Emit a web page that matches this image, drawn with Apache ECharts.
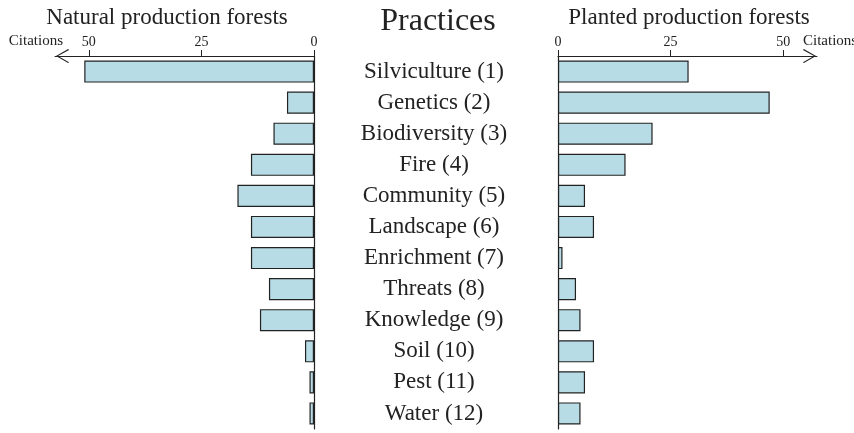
<!DOCTYPE html>
<html>
<head>
<meta charset="utf-8">
<script src="https://cdn.jsdelivr.net/npm/echarts@6/dist/echarts.min.js"></script>
<style>
  html, body { margin: 0; padding: 0; background: #fff; }
  #chart { width: 854px; height: 433px; }
</style>
</head>
<body>
<div id="chart"></div>
<script>
// Data
const practices = ['Silviculture (1)', 'Genetics (2)', 'Biodiversity (3)', 'Fire (4)', 'Community (5)',
  'Landscape (6)', 'Enrichment (7)', 'Threats (8)', 'Knowledge (9)', 'Soil (10)', 'Pest (11)', 'Water (12)'];
const naturalCitations = [51, 6, 9, 14, 17, 14, 14, 10, 12, 2, 1, 1];
const plantedCitations = [29, 47, 21, 15, 6, 8, 1, 4, 5, 8, 6, 5];
const tickValues = [0, 25, 50];

const font = 'Liberation Serif';
const ink = '#222';
// open arrow head, pointing up before ECharts rotates it
const arrow = 'path://M0,0 L8,14 L7,15 L0,2.4 L-7,15 L-8,14 Z';

function valueAxis(gridIndex, inverse, gap) {
  return {
    type: 'value', gridIndex: gridIndex, position: 'top', inverse: inverse,
    min: 0, max: 57.5,
    name: 'Citations', nameLocation: 'end', nameGap: gap,
    nameTextStyle: { fontFamily: font, fontSize: 15, color: ink, verticalAlign: 'bottom', padding: [0, 0, 7, 0] },
    axisLine: {
      show: true, lineStyle: { color: ink, width: 1 },
      symbol: inverse ? [arrow, 'none'] : ['none', arrow],
      symbolSize: [14, 15],
      symbolOffset: inverse ? [7.5, 0] : [0, -7.5]
    },
    axisTick: { show: true, length: 6, lineStyle: { color: ink }, customValues: tickValues },
    axisLabel: { fontFamily: font, fontSize: 14, color: ink, margin: 7, customValues: tickValues },
    splitLine: { show: false }
  };
}

function barSeries(axisIndex, values) {
  return {
    type: 'bar', xAxisIndex: axisIndex, yAxisIndex: axisIndex, data: values,
    barCategoryGap: '29%',
    itemStyle: { color: '#b7dce6', borderColor: ink, borderWidth: 1.2 },
    silent: true
  };
}

const chart = echarts.init(document.getElementById('chart'));
chart.setOption({
  animation: false,
  backgroundColor: '#fff',
  title: [
    { text: 'Natural production forests', left: 162, top: 1, textAlign: 'center',
      textStyle: { fontFamily: font, fontSize: 23, fontWeight: 'normal', color: ink } },
    { text: 'Practices', left: 433, top: 1, textAlign: 'center',
      textStyle: { fontFamily: font, fontSize: 32, fontWeight: 'normal', color: ink } },
    { text: 'Planted production forests', left: 684, top: 1, textAlign: 'center',
      textStyle: { fontFamily: font, fontSize: 23, fontWeight: 'normal', color: ink } }
  ],
  grid: [
    { left: 55, right: 540, top: 56, bottom: 4, outerBoundsMode: 'none' },
    { left: 558, right: 37, top: 56, bottom: 4, outerBoundsMode: 'none' }
  ],
  xAxis: [valueAxis(0, true, -8), valueAxis(1, false, -14)],
  yAxis: [
    { type: 'category', gridIndex: 0, position: 'right', inverse: true, data: practices,
      axisLine: { show: true, lineStyle: { color: ink, width: 1.2 } }, axisTick: { show: false },
      axisLabel: { fontFamily: font, fontSize: 23, color: ink, align: 'center', margin: 120 } },
    { type: 'category', gridIndex: 1, position: 'left', inverse: true, data: practices,
      axisLine: { show: true, lineStyle: { color: ink, width: 1.2 } }, axisTick: { show: false },
      axisLabel: { show: false } }
  ],
  series: [barSeries(0, naturalCitations), barSeries(1, plantedCitations)]
});
</script>
</body>
</html>
